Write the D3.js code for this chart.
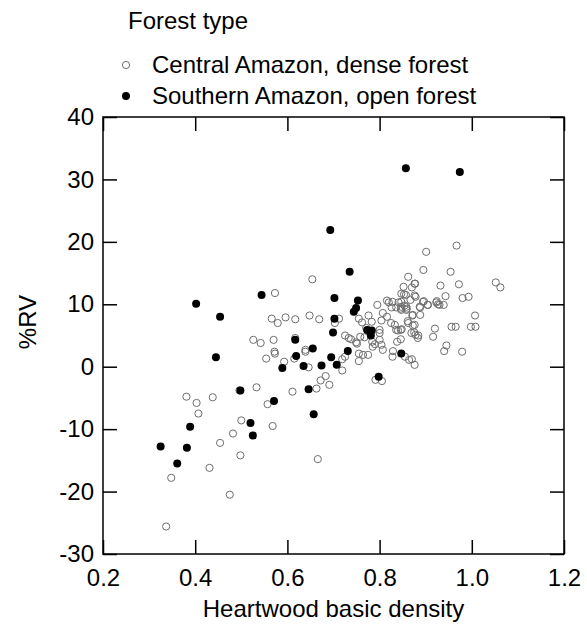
<!DOCTYPE html>
<html>
<head>
<meta charset="utf-8">
<script src="https://cdn.jsdelivr.net/npm/d3@7"></script>
<style>
  body { margin: 0; background: #fff; }
  text { font-family: "Liberation Sans", Arial, sans-serif; fill: #000; }
</style>
</head>
<body>
<svg id="chart" width="587" height="628"></svg>
<script>
// Central Amazon, dense forest (open circles): [density, %RV]
let centralPts = [
  [0.654,14.0],[0.573,11.8],[0.566,7.7],[0.579,7.0],[0.596,7.9],[0.617,7.6],[0.648,8.2],[0.669,7.6],[0.703,7.0],
  [0.967,19.4],[0.901,18.4],[0.895,15.5],[0.954,15.2],[0.862,14.4],[1.052,13.5],[1.062,12.7],[0.852,12.8],[0.870,12.7],
  [0.877,13.3],[0.932,13.0],[0.972,13.2],[0.853,11.6],[0.878,11.2],[0.867,10.7],[0.943,11.3],[0.980,11.0],[0.993,11.2],
  [0.816,10.6],[0.841,10.3],[0.896,10.5],[0.924,10.5],[0.927,10.0],[0.939,9.9],[0.795,9.9],[0.826,9.5],[0.836,9.5],
  [0.846,9.3],[0.859,9.3],[0.888,9.5],[0.904,9.9],[0.807,8.6],[0.776,8.2],[0.755,7.7],[0.816,8.0],[0.804,7.4],[0.762,7.1],
  [0.871,8.2],[0.888,8.3],[1.007,8.2],[0.861,7.3],[0.783,7.2],[0.712,7.7],[0.833,6.7],[0.956,6.4],[0.965,6.4],[0.998,6.4],
  [1.008,6.4],[0.920,6.1],[0.840,5.8],[0.848,6.0],[0.800,5.9],[0.872,6.6],[0.875,5.5],[0.884,5.0],[0.916,4.8],[0.725,5.0],
  [0.733,4.6],[0.526,4.3],[0.542,3.8],[0.570,4.3],[0.617,4.6],[0.572,2.4],[0.573,2.1],[0.554,1.3],[0.593,0.8],[0.615,1.3],
  [0.639,2.7],[0.639,2.4],[0.646,-0.1],[0.496,-3.8],[0.533,-3.3],[0.611,-4.0],[0.663,-3.5],[0.672,-2.2],[0.683,-1.5],
  [0.691,-2.9],[0.381,-4.8],[0.403,-5.8],[0.438,-4.9],[0.407,-7.5],[0.557,-6.0],[0.500,-8.6],[0.568,-9.5],[0.482,-10.7],
  [0.454,-12.2],[0.498,-14.2],[0.666,-14.8],[0.431,-16.2],[0.348,-17.8],[0.475,-20.5],[0.337,-25.6],
  [0.738,4.4],[0.749,3.9],[0.758,4.8],[0.725,1.6],[0.719,-0.6],[0.755,2.1],[0.755,0.9],[0.764,1.9],[0.775,1.9],[0.751,3.7],
  [0.767,4.7],[0.784,4.0],[0.790,3.6],[0.785,3.2],[0.800,4.3],[0.804,3.5],[0.807,2.7],[0.800,5.4],[0.791,-2.1],[0.805,-2.3],
  [0.829,2.5],[0.828,1.6],[0.838,4.0],[0.846,4.4],[0.855,1.6],[0.864,1.1],[0.870,1.2],[0.876,0.3],[0.869,5.4],[0.878,5.1],
  [0.883,4.6],[0.945,3.4],[0.940,2.5],[0.979,2.4],[0.820,10.3],[0.828,10.4],[0.847,9.6],[0.858,9.6],[0.857,11.5],[0.771,6.2],
  [0.825,7.0],[0.836,5.9],[0.846,5.9],[0.862,7.0],[0.876,13.3],[0.847,11.7],[0.876,11.4],[0.894,10.4],[0.905,9.9],
  [0.923,10.3],[0.930,9.9],[0.847,10.4],[0.854,9.8],[0.858,9.1],[0.847,9.1],[0.887,9.6],[0.872,8.3],[0.876,6.7],[0.719,1.2]
];

// Southern Amazon, open forest (filled circles)
let southernPts = [
  [0.693,21.9],[0.544,11.5],[0.402,10.1],[0.702,11.0],[0.454,8.0],[0.702,7.7],[0.699,5.5],[0.857,31.8],[0.974,31.2],
  [0.735,15.2],[0.753,10.6],[0.749,9.4],[0.744,8.8],[0.773,5.9],[0.783,5.8],[0.781,5.0],[0.617,4.3],[0.445,1.5],
  [0.619,1.7],[0.655,2.9],[0.589,-0.2],[0.635,0.1],[0.674,0.2],[0.695,1.5],[0.707,0.3],[0.498,-3.8],[0.646,-3.6],
  [0.571,-5.5],[0.657,-7.6],[0.520,-9.0],[0.525,-11.0],[0.389,-9.6],[0.325,-12.8],[0.382,-13.0],[0.361,-15.5],
  [0.731,2.5],[0.798,-1.6],[0.847,2.1]
];

let xTicks = [0.2, 0.4, 0.6, 0.8, 1.0, 1.2];
let yTicks = [-30, -20, -10, 0, 10, 20, 30, 40];
let legendLabels = ['Central Amazon, dense forest', 'Southern Amazon, open forest'];

var svg = d3.select('#chart');
var plotL = 103, plotR = 564, plotT = 117, plotB = 554;
var fontSize = '24px';
var rOpen = 3.6, rFilled = 4;

var x = d3.scaleLinear().domain([0.2, 1.2]).range([plotL, plotR]);
var y = d3.scaleLinear().domain([-30, 40]).range([plotB, plotT]);

// axes, ticks pointing inward on all four sides
svg.append('g')
  .attr('transform', 'translate(0,' + plotB + ')')
  .call(d3.axisBottom(x).tickValues(xTicks).tickSize(-14).tickSizeOuter(0).tickPadding(15)
    .tickFormat(d3.format('.1f')))
  .call(g => g.select('.domain').remove())
  .call(g => g.selectAll('text').attr('font-size', fontSize).attr('dy', '0.71em'));

svg.append('g')
  .attr('transform', 'translate(0,' + plotT + ')')
  .call(d3.axisTop(x).tickValues(xTicks).tickSize(-14).tickSizeOuter(0).tickFormat(''))
  .call(g => g.select('.domain').remove());

svg.append('g')
  .attr('transform', 'translate(' + plotL + ',0)')
  .call(d3.axisLeft(y).tickValues(yTicks).tickSize(-14).tickSizeOuter(0).tickPadding(9)
    .tickFormat(d => String(d)))
  .call(g => g.select('.domain').remove())
  .call(g => g.selectAll('text').attr('font-size', fontSize));

svg.append('g')
  .attr('transform', 'translate(' + plotR + ',0)')
  .call(d3.axisRight(y).tickValues(yTicks).tickSize(-14).tickSizeOuter(0).tickFormat(''))
  .call(g => g.select('.domain').remove());

svg.selectAll('.tick line').attr('stroke', '#000').attr('stroke-width', 1.5);

svg.append('rect')
  .attr('x', plotL).attr('y', plotT)
  .attr('width', plotR - plotL).attr('height', plotB - plotT)
  .attr('fill', 'none').attr('stroke', '#000').attr('stroke-width', 1.5);

// points
svg.append('g').selectAll('circle')
  .data(centralPts)
  .enter().append('circle')
  .attr('cx', d => x(d[0])).attr('cy', d => y(d[1]))
  .attr('r', rOpen)
  .attr('fill', 'none').attr('stroke', '#6e6e6e').attr('stroke-width', 1);

svg.append('g').selectAll('circle')
  .data(southernPts)
  .enter().append('circle')
  .attr('cx', d => x(d[0])).attr('cy', d => y(d[1]))
  .attr('r', rFilled)
  .attr('fill', '#000');

// axis titles
svg.append('text')
  .attr('x', (plotL + plotR) / 2).attr('y', 617)
  .attr('text-anchor', 'middle').attr('font-size', fontSize)
  .text('Heartwood basic density');

svg.append('text')
  .attr('transform', 'translate(36,322) rotate(-90)')
  .attr('text-anchor', 'middle').attr('font-size', fontSize)
  .text('%RV');

// legend
svg.append('text')
  .attr('x', 128).attr('y', 29)
  .attr('font-size', fontSize)
  .text('Forest type');

var legend = svg.append('g').selectAll('g')
  .data(legendLabels)
  .enter().append('g')
  .attr('transform', (d, i) => 'translate(126,' + (65 + i * 31) + ')');

legend.append('circle')
  .attr('r', (d, i) => i ? rFilled : rOpen)
  .attr('fill', (d, i) => i ? '#000' : 'none')
  .attr('stroke', (d, i) => i ? 'none' : '#6e6e6e')
  .attr('stroke-width', 1);

legend.append('text')
  .attr('x', 26).attr('dy', '0.35em')
  .attr('font-size', fontSize)
  .text(d => d);
</script>
</body>
</html>
